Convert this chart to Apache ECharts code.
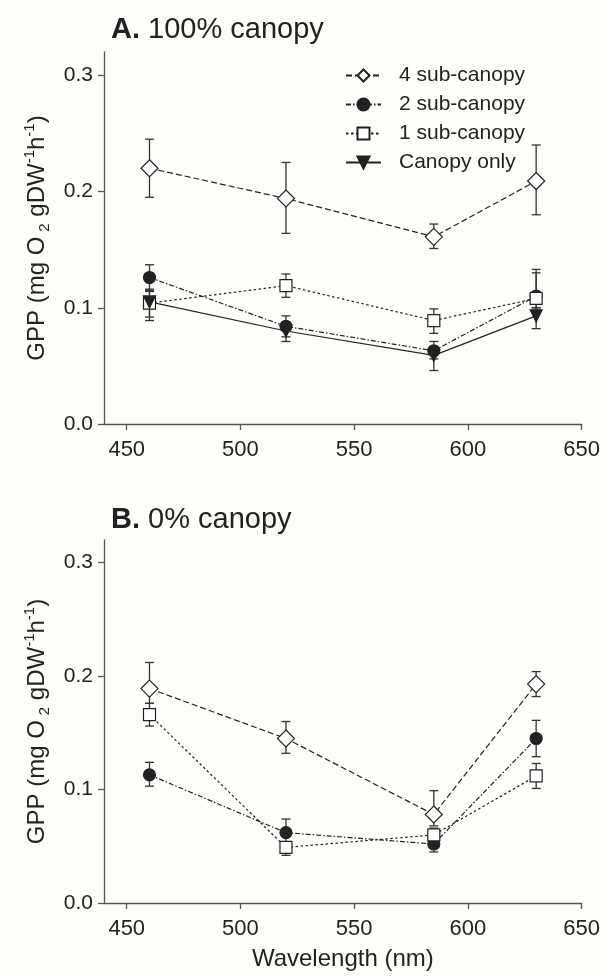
<!DOCTYPE html>
<html>
<head>
<meta charset="utf-8">
<script src="https://cdn.jsdelivr.net/npm/echarts@6/dist/echarts.min.js"></script>
<style>
  html, body { margin: 0; padding: 0; background: #fdfdfa; }
  #chart { width: 603px; height: 976px; }
</style>
</head>
<body>
<div id="chart"></div>
<script>
// wavelengths (nm)
const WL = [460, 520, 585, 630];
const X_TICKS = [450, 500, 550, 600, 650];
const Y_TICKS = [0, 0.1, 0.2, 0.3];
const NAMES = ['4 sub-canopy', '2 sub-canopy', '1 sub-canopy', 'Canopy only'];

// A. 100% canopy — mean, upper and lower bar ends
const A4 = [0.220, 0.194, 0.161, 0.209];
const A4_HI = [0.245, 0.225, 0.172, 0.240];
const A4_LO = [0.195, 0.164, 0.151, 0.180];
const A2 = [0.126, 0.084, 0.063, 0.110];
const A2_HI = [0.137, 0.093, 0.071, 0.133];
const A2_LO = [0.115, 0.075, 0.056, 0.100];
const A1 = [0.104, 0.119, 0.089, 0.108];
const A1_HI = [0.116, 0.129, 0.099, 0.130];
const A1_LO = [0.092, 0.109, 0.078, 0.098];
const A0 = [0.105, 0.080, 0.059, 0.093];
const A0_HI = [0.114, 0.088, 0.066, 0.100];
const A0_LO = [0.089, 0.071, 0.046, 0.082];

// B. 0% canopy
const B4 = [0.189, 0.145, 0.078, 0.193];
const B4_HI = [0.212, 0.160, 0.099, 0.204];
const B4_LO = [0.176, 0.132, 0.068, 0.182];
const B2 = [0.113, 0.062, 0.052, 0.145];
const B2_HI = [0.124, 0.074, 0.060, 0.161];
const B2_LO = [0.103, 0.054, 0.045, 0.129];
const B1 = [0.166, 0.049, 0.060, 0.112];
const B1_HI = [0.176, 0.054, 0.066, 0.123];
const B1_LO = [0.156, 0.042, 0.054, 0.101];

const FONT = '"Liberation Sans", Arial, sans-serif';
const INK = '#222';

// marker + line look for each treatment
const STYLE = {
  '4 sub-canopy': { symbol: 'diamond', size: 17, rot: 0, fill: '#fff', dash: [6, 3] },
  '2 sub-canopy': { symbol: 'circle', size: 12, rot: 0, fill: INK, dash: [5, 2, 1.5, 2] },
  '1 sub-canopy': { symbol: 'rect', size: 12, rot: 0, fill: '#fff', dash: [2.5, 2.5] },
  'Canopy only': { symbol: 'triangle', size: 12, rot: 180, fill: INK, dash: 'solid' },
};

const pts = ys => WL.map((x, i) => [x, ys[i]]);

function lineSeries(name, ys, idx) {
  const s = STYLE[name];
  return {
    type: 'line', name, xAxisIndex: idx, yAxisIndex: idx, z: 3,
    data: pts(ys),
    symbol: s.symbol, symbolSize: s.size, symbolRotate: s.rot, showAllSymbol: true,
    lineStyle: { color: INK, width: 1.2, type: s.dash },
    itemStyle: { color: s.fill, borderColor: INK, borderWidth: 1.2, opacity: 1 },
    emphasis: { disabled: true },
  };
}

function errSeries(hi, lo, idx) {
  return {
    type: 'custom', xAxisIndex: idx, yAxisIndex: idx, z: 2, silent: true,
    data: WL.map((x, i) => [x, lo[i], hi[i]]),
    encode: { x: 0, y: [1, 2] },
    renderItem: (params, api) => {
      const top = api.coord([api.value(0), api.value(2)]);
      const bot = api.coord([api.value(0), api.value(1)]);
      const w = 4.5;
      const st = { stroke: '#333', lineWidth: 1.3 };
      return {
        type: 'group',
        children: [
          { type: 'line', shape: { x1: top[0], y1: top[1], x2: bot[0], y2: bot[1] }, style: st },
          { type: 'line', shape: { x1: top[0] - w, y1: top[1], x2: top[0] + w, y2: top[1] }, style: st },
          { type: 'line', shape: { x1: bot[0] - w, y1: bot[1], x2: bot[0] + w, y2: bot[1] }, style: st },
        ],
      };
    },
  };
}

const axisCommon = {
  axisLine: { lineStyle: { color: '#555', width: 1.3 } },
  axisTick: { lineStyle: { color: '#555', width: 1.3 }, length: 6 },
  splitLine: { show: false },
};

function xAxis(idx, withName) {
  return {
    type: 'value', gridIndex: idx, min: 440, max: 650, ...axisCommon,
    axisTick: { ...axisCommon.axisTick, customValues: X_TICKS },
    axisLabel: { customValues: X_TICKS, color: INK, fontSize: 22, fontFamily: FONT, margin: 15 },
    name: withName ? 'Wavelength (nm)' : '',
    nameLocation: 'middle', nameGap: 44,
    nameTextStyle: { color: INK, fontSize: 24, fontFamily: FONT },
  };
}

function yAxis(idx) {
  return {
    type: 'value', gridIndex: idx, min: 0, max: 0.32, ...axisCommon,
    axisTick: { ...axisCommon.axisTick, customValues: Y_TICKS },
    axisLabel: { customValues: Y_TICKS, color: INK, fontSize: 21, fontFamily: FONT, margin: 11,
      formatter: v => v.toFixed(1) },
    name: 'GPP (mg O{sub|2} gDW{sup|-1}h{sup|-1})',
    nameLocation: 'middle', nameGap: 52,
    nameTextStyle: {
      color: INK, fontSize: 24, fontFamily: FONT, lineHeight: 30,
      rich: {
        sub: { fontSize: 15, fontFamily: FONT, color: INK, verticalAlign: 'bottom', lineHeight: 16, padding: [0, 0, 0, 5] },
        sup: { fontSize: 15, fontFamily: FONT, color: INK, verticalAlign: 'top', lineHeight: 16 },
      },
    },
  };
}

function panelTitle(letter, text, top) {
  return {
    text: `{b|${letter}} ${text}`, left: 106, top,
    textStyle: {
      color: INK, fontSize: 29, fontFamily: FONT, fontWeight: 'normal',
      rich: { b: { fontSize: 29, fontFamily: FONT, fontWeight: 'bold', color: INK } },
    },
  };
}

const chart = echarts.init(document.getElementById('chart'), null, { renderer: 'canvas' });
chart.setOption({
  backgroundColor: '#fdfdfa',
  animation: false,
  title: [panelTitle('A.', '100% canopy', 10), panelTitle('B.', '0% canopy', 500)],
  legend: {
    data: NAMES, orient: 'vertical', left: 340, top: 60,
    itemWidth: 35, itemHeight: 15, itemGap: 8,
    textStyle: { color: INK, fontSize: 21, fontFamily: FONT, padding: [0, 0, 0, 13] },
    selectedMode: false,
  },
  grid: [
    { left: 104, right: 20, top: 52, height: 372 },
    { left: 104, right: 20, top: 540, height: 363 },
  ],
  xAxis: [xAxis(0, false), xAxis(1, true)],
  yAxis: [yAxis(0), yAxis(1)],
  series: [
    errSeries(A4_HI, A4_LO, 0), errSeries(A2_HI, A2_LO, 0),
    errSeries(A1_HI, A1_LO, 0), errSeries(A0_HI, A0_LO, 0),
    lineSeries('4 sub-canopy', A4, 0), lineSeries('2 sub-canopy', A2, 0),
    lineSeries('1 sub-canopy', A1, 0), lineSeries('Canopy only', A0, 0),
    errSeries(B4_HI, B4_LO, 1), errSeries(B2_HI, B2_LO, 1), errSeries(B1_HI, B1_LO, 1),
    { ...lineSeries('4 sub-canopy', B4, 1), name: 'B 4' },
    { ...lineSeries('2 sub-canopy', B2, 1), name: 'B 2' },
    { ...lineSeries('1 sub-canopy', B1, 1), name: 'B 1' },
  ],
});
</script>
</body>
</html>
